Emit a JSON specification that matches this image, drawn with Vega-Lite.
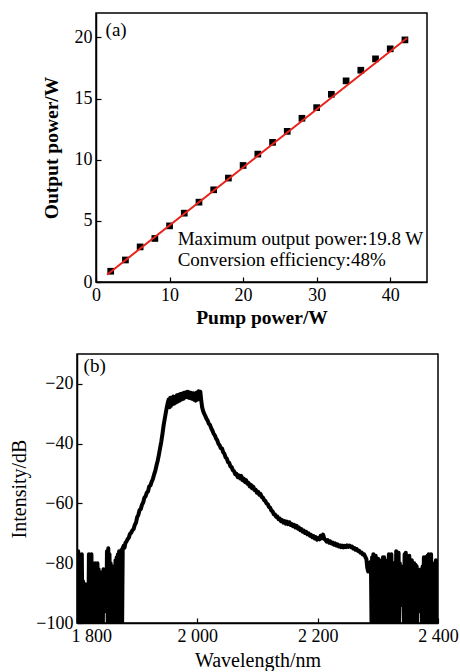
{
  "$schema": "https://vega.github.io/schema/vega-lite/v6.json",
  "background": "white",
  "padding": {"left": 9, "top": 12, "right": 2, "bottom": 0},
  "spacing": 25,
  "config": {
    "font": "Liberation Serif",
    "view": {"stroke": "black", "strokeWidth": 1.5},
    "axis": {
      "labelFont": "Liberation Serif",
      "titleFont": "Liberation Serif",
      "labelFontSize": 18,
      "titleFontSize": 19.5,
      "labelColor": "black",
      "titleColor": "black",
      "domainColor": "black",
      "domainWidth": 1.5,
      "tickColor": "black",
      "tickWidth": 1.2,
      "tickSize": -5,
      "labelPadding": 9,
      "labelFlush": false,
      "labelOverlap": false,
      "grid": false
    },
    "text": {"font": "Liberation Serif", "color": "black"}
  },
  "datasets": {
    "power": [
      {"pump": 2, "output": 0.88}, {"pump": 4, "output": 1.8}, {"pump": 6, "output": 2.87},
      {"pump": 8, "output": 3.56}, {"pump": 10, "output": 4.59}, {"pump": 12, "output": 5.63},
      {"pump": 14, "output": 6.53}, {"pump": 16, "output": 7.54}, {"pump": 18, "output": 8.5},
      {"pump": 20, "output": 9.53}, {"pump": 22, "output": 10.46}, {"pump": 24, "output": 11.42},
      {"pump": 26, "output": 12.32}, {"pump": 28, "output": 13.39}, {"pump": 30, "output": 14.26},
      {"pump": 32, "output": 15.35}, {"pump": 34, "output": 16.45}, {"pump": 36, "output": 17.32},
      {"pump": 38, "output": 18.25}, {"pump": 40, "output": 19.07}, {"pump": 42, "output": 19.8}
    ],
    "fit": [
      {"pump": 1.5, "output": 0.6},
      {"pump": 42.3, "output": 19.95}
    ],
    "notes": [
      {"panel": "a", "text": "Maximum output power:19.8 W\nConversion efficiency:48%"}
    ],
    "spectrum": [
      {"wl": 1800, "db": -77}, {"wl": 1801, "db": -100}, {"wl": 1802, "db": -76}, {"wl": 1803, "db": -100},
      {"wl": 1804, "db": -77}, {"wl": 1805, "db": -100}, {"wl": 1806, "db": -78}, {"wl": 1807, "db": -100},
      {"wl": 1808, "db": -77}, {"wl": 1809, "db": -100}, {"wl": 1810, "db": -86}, {"wl": 1811, "db": -100},
      {"wl": 1812, "db": -88}, {"wl": 1813, "db": -100}, {"wl": 1814, "db": -87}, {"wl": 1815, "db": -100},
      {"wl": 1819, "db": -100}, {"wl": 1819.8, "db": -77}, {"wl": 1821, "db": -100}, {"wl": 1822, "db": -78},
      {"wl": 1823, "db": -100}, {"wl": 1824, "db": -77}, {"wl": 1825, "db": -100}, {"wl": 1826, "db": -80},
      {"wl": 1827, "db": -100}, {"wl": 1828, "db": -81}, {"wl": 1829, "db": -100}, {"wl": 1830, "db": -80},
      {"wl": 1831, "db": -100}, {"wl": 1832, "db": -81}, {"wl": 1833, "db": -100}, {"wl": 1834, "db": -80},
      {"wl": 1835, "db": -100}, {"wl": 1836, "db": -82}, {"wl": 1837, "db": -100}, {"wl": 1841, "db": -100},
      {"wl": 1841.8, "db": -83}, {"wl": 1843, "db": -100}, {"wl": 1844, "db": -82}, {"wl": 1845, "db": -96},
      {"wl": 1849, "db": -96}, {"wl": 1849.8, "db": -76}, {"wl": 1851, "db": -100}, {"wl": 1852, "db": -75},
      {"wl": 1853, "db": -100}, {"wl": 1854, "db": -77}, {"wl": 1855, "db": -100}, {"wl": 1856, "db": -80},
      {"wl": 1857, "db": -100}, {"wl": 1861, "db": -100}, {"wl": 1861.8, "db": -81}, {"wl": 1863, "db": -100},
      {"wl": 1864, "db": -79}, {"wl": 1865, "db": -100}, {"wl": 1866, "db": -78}, {"wl": 1867, "db": -100},
      {"wl": 1868, "db": -77}, {"wl": 1869, "db": -100}, {"wl": 1870, "db": -76}, {"wl": 1871, "db": -100},
      {"wl": 1872, "db": -76.5}, {"wl": 1873, "db": -100}, {"wl": 1874, "db": -75.5}, {"wl": 1875, "db": -100},
      {"wl": 1876, "db": -75},
      {"wl": 1877.5, "db": -74.2}, {"wl": 1879, "db": -74.8}, {"wl": 1880.5, "db": -73.2}, {"wl": 1882, "db": -72.8},
      {"wl": 1884, "db": -72}, {"wl": 1886, "db": -71.5}, {"wl": 1888, "db": -70.2}, {"wl": 1890, "db": -69.8},
      {"wl": 1892, "db": -69}, {"wl": 1894, "db": -68.6}, {"wl": 1896, "db": -67.2}, {"wl": 1898, "db": -66.5},
      {"wl": 1900, "db": -64.6}, {"wl": 1902, "db": -63.8}, {"wl": 1904, "db": -62.2}, {"wl": 1906, "db": -61.9},
      {"wl": 1908, "db": -60.4}, {"wl": 1910, "db": -59.7}, {"wl": 1912, "db": -58.1}, {"wl": 1914, "db": -57.6},
      {"wl": 1916, "db": -56.4}, {"wl": 1918, "db": -56}, {"wl": 1920, "db": -54.3}, {"wl": 1922, "db": -54},
      {"wl": 1924, "db": -52.8}, {"wl": 1926, "db": -51.9}, {"wl": 1928, "db": -50.4}, {"wl": 1930, "db": -49.2},
      {"wl": 1932, "db": -47.4}, {"wl": 1934, "db": -45.8}, {"wl": 1936, "db": -43.8}, {"wl": 1938, "db": -41.6},
      {"wl": 1940, "db": -39.4}, {"wl": 1942, "db": -36.8}, {"wl": 1944, "db": -33.8}, {"wl": 1946, "db": -31.5},
      {"wl": 1948, "db": -29.2}, {"wl": 1949.5, "db": -27.6}, {"wl": 1951, "db": -26.2}, {"wl": 1952.5, "db": -25.2},
      {"wl": 1954, "db": -27.8}, {"wl": 1955, "db": -24.6}, {"wl": 1956, "db": -27.4}, {"wl": 1957, "db": -24.8},
      {"wl": 1958.5, "db": -26.8}, {"wl": 1960, "db": -24.2}, {"wl": 1961.5, "db": -26.6}, {"wl": 1963, "db": -24.4},
      {"wl": 1964.5, "db": -26.2}, {"wl": 1966, "db": -23.8}, {"wl": 1967.5, "db": -25.9}, {"wl": 1969, "db": -23.6},
      {"wl": 1970.5, "db": -25.6}, {"wl": 1972, "db": -23.4}, {"wl": 1973.5, "db": -25.2}, {"wl": 1975, "db": -23.2},
      {"wl": 1976.5, "db": -25}, {"wl": 1978, "db": -23}, {"wl": 1979.5, "db": -24.6}, {"wl": 1981, "db": -22.8},
      {"wl": 1982.5, "db": -24.4}, {"wl": 1984, "db": -22.6}, {"wl": 1985.5, "db": -24.6}, {"wl": 1987, "db": -22.9},
      {"wl": 1988.5, "db": -24.8}, {"wl": 1990, "db": -23}, {"wl": 1991.5, "db": -25}, {"wl": 1993, "db": -23.1},
      {"wl": 1994.5, "db": -25.3}, {"wl": 1996, "db": -23.2}, {"wl": 1997.5, "db": -25.6}, {"wl": 1999, "db": -22.9},
      {"wl": 2000.5, "db": -25.2}, {"wl": 2002, "db": -22.5}, {"wl": 2003.5, "db": -24.8}, {"wl": 2005, "db": -22.6},
      {"wl": 2006.5, "db": -25.6}, {"wl": 2008, "db": -27.8}, {"wl": 2009.5, "db": -29}, {"wl": 2011, "db": -29.8},
      {"wl": 2013, "db": -30.6}, {"wl": 2015, "db": -31.6}, {"wl": 2017, "db": -32.2}, {"wl": 2019, "db": -33.3},
      {"wl": 2021, "db": -33.7}, {"wl": 2023, "db": -34.8}, {"wl": 2025, "db": -35.6}, {"wl": 2027, "db": -36.6},
      {"wl": 2029, "db": -37.2}, {"wl": 2031, "db": -38.2}, {"wl": 2033, "db": -38.8}, {"wl": 2035, "db": -40},
      {"wl": 2037, "db": -40.5}, {"wl": 2039, "db": -41.5}, {"wl": 2041, "db": -41.6}, {"wl": 2043, "db": -42.9},
      {"wl": 2045, "db": -43.4}, {"wl": 2047, "db": -44.6}, {"wl": 2049, "db": -45}, {"wl": 2051, "db": -46.2},
      {"wl": 2053, "db": -46.4}, {"wl": 2055, "db": -47.6}, {"wl": 2057, "db": -47.8}, {"wl": 2059, "db": -48.9},
      {"wl": 2061, "db": -49.2}, {"wl": 2063, "db": -50.2}, {"wl": 2065, "db": -50.1}, {"wl": 2067, "db": -51.2},
      {"wl": 2069, "db": -50.6}, {"wl": 2071, "db": -51.6}, {"wl": 2073, "db": -50.8}, {"wl": 2075, "db": -52.2},
      {"wl": 2077, "db": -51.7}, {"wl": 2079, "db": -52.8}, {"wl": 2081, "db": -52.2}, {"wl": 2083, "db": -53.4},
      {"wl": 2085, "db": -53.1}, {"wl": 2087, "db": -54.3}, {"wl": 2089, "db": -53.8}, {"wl": 2091, "db": -54.9},
      {"wl": 2093, "db": -54.4}, {"wl": 2095, "db": -55.5}, {"wl": 2097, "db": -55.4}, {"wl": 2099, "db": -56.4},
      {"wl": 2101, "db": -56.1}, {"wl": 2103, "db": -57.1}, {"wl": 2105, "db": -56.8}, {"wl": 2107, "db": -57.9},
      {"wl": 2109, "db": -58}, {"wl": 2111, "db": -58.9}, {"wl": 2113, "db": -59.1}, {"wl": 2115, "db": -60},
      {"wl": 2117, "db": -60.2}, {"wl": 2119, "db": -61.2}, {"wl": 2121, "db": -61.4}, {"wl": 2123, "db": -62.4},
      {"wl": 2125, "db": -62.6}, {"wl": 2127, "db": -63.6}, {"wl": 2129, "db": -63.7}, {"wl": 2131, "db": -64.5},
      {"wl": 2133, "db": -64.4}, {"wl": 2135, "db": -65.3}, {"wl": 2137, "db": -65.1}, {"wl": 2139, "db": -65.9},
      {"wl": 2141, "db": -65.6}, {"wl": 2143, "db": -66.4}, {"wl": 2145, "db": -65.9}, {"wl": 2147, "db": -66.8},
      {"wl": 2149, "db": -66.1}, {"wl": 2151, "db": -66.9}, {"wl": 2153, "db": -66.3}, {"wl": 2155, "db": -67.2},
      {"wl": 2157, "db": -66.9}, {"wl": 2159, "db": -67.6}, {"wl": 2161, "db": -67.2}, {"wl": 2163, "db": -68},
      {"wl": 2165, "db": -67.5}, {"wl": 2167, "db": -68.4}, {"wl": 2169, "db": -68.1}, {"wl": 2171, "db": -68.9},
      {"wl": 2173, "db": -68.6}, {"wl": 2175, "db": -69.4}, {"wl": 2177, "db": -69.1}, {"wl": 2179, "db": -69.9},
      {"wl": 2181, "db": -69.5}, {"wl": 2183, "db": -70.3}, {"wl": 2185, "db": -70}, {"wl": 2187, "db": -70.8},
      {"wl": 2189, "db": -70.5}, {"wl": 2191, "db": -71.3}, {"wl": 2193, "db": -70.9}, {"wl": 2195, "db": -71.7},
      {"wl": 2197, "db": -71.3}, {"wl": 2199, "db": -72.1}, {"wl": 2201, "db": -71.6}, {"wl": 2203, "db": -72},
      {"wl": 2205, "db": -70.8}, {"wl": 2207, "db": -71.6}, {"wl": 2209, "db": -70.4}, {"wl": 2211, "db": -71.8},
      {"wl": 2213, "db": -72.2}, {"wl": 2215, "db": -72.8}, {"wl": 2217, "db": -72.3}, {"wl": 2219, "db": -73.1},
      {"wl": 2221, "db": -72.7}, {"wl": 2223, "db": -73.4}, {"wl": 2225, "db": -73.1}, {"wl": 2227, "db": -73.8},
      {"wl": 2229, "db": -73.4}, {"wl": 2231, "db": -74.1}, {"wl": 2233, "db": -73.7}, {"wl": 2235, "db": -74.4},
      {"wl": 2237, "db": -74}, {"wl": 2239, "db": -74.6}, {"wl": 2241, "db": -74.1}, {"wl": 2243, "db": -74.7},
      {"wl": 2245, "db": -74.2}, {"wl": 2247, "db": -74.6}, {"wl": 2249, "db": -74}, {"wl": 2251, "db": -74.5},
      {"wl": 2253, "db": -74.1}, {"wl": 2255, "db": -74.6}, {"wl": 2257, "db": -74.4}, {"wl": 2259, "db": -75.1},
      {"wl": 2261, "db": -74.9}, {"wl": 2263, "db": -75.5}, {"wl": 2265, "db": -75.3}, {"wl": 2267, "db": -75.9},
      {"wl": 2269, "db": -75.8}, {"wl": 2271, "db": -76.5}, {"wl": 2273, "db": -76.4}, {"wl": 2275, "db": -77.1},
      {"wl": 2277, "db": -77}, {"wl": 2279, "db": -77.8}, {"wl": 2281, "db": -78.6}, {"wl": 2282.5, "db": -81.5},
      {"wl": 2284, "db": -82.8}, {"wl": 2285.5, "db": -80.5}, {"wl": 2287, "db": -79.8}, {"wl": 2288.5, "db": -79.5},
      {"wl": 2289.5, "db": -100}, {"wl": 2290.5, "db": -78}, {"wl": 2291.5, "db": -100}, {"wl": 2292.5, "db": -77},
      {"wl": 2293.5, "db": -100}, {"wl": 2294.5, "db": -78}, {"wl": 2295.5, "db": -100}, {"wl": 2296.5, "db": -77.5},
      {"wl": 2297.5, "db": -100}, {"wl": 2298.5, "db": -79}, {"wl": 2299.5, "db": -100}, {"wl": 2300.5, "db": -78.5},
      {"wl": 2301.5, "db": -100}, {"wl": 2302.5, "db": -79}, {"wl": 2303.5, "db": -100}, {"wl": 2304.5, "db": -80},
      {"wl": 2305.5, "db": -100}, {"wl": 2306.5, "db": -79}, {"wl": 2307.5, "db": -100}, {"wl": 2308.5, "db": -78},
      {"wl": 2309.5, "db": -100}, {"wl": 2310.5, "db": -78}, {"wl": 2311.5, "db": -100}, {"wl": 2312.5, "db": -79},
      {"wl": 2313.5, "db": -100}, {"wl": 2317.5, "db": -100}, {"wl": 2318.3, "db": -77}, {"wl": 2319.5, "db": -100},
      {"wl": 2320.5, "db": -78}, {"wl": 2321.5, "db": -100}, {"wl": 2322.5, "db": -77}, {"wl": 2323.5, "db": -100},
      {"wl": 2324.5, "db": -80}, {"wl": 2325.5, "db": -100}, {"wl": 2326.5, "db": -80}, {"wl": 2327.5, "db": -100},
      {"wl": 2328.5, "db": -81}, {"wl": 2329.5, "db": -100}, {"wl": 2330.5, "db": -76}, {"wl": 2331.5, "db": -100},
      {"wl": 2332.5, "db": -77}, {"wl": 2333.5, "db": -100}, {"wl": 2334.5, "db": -76.5}, {"wl": 2335.5, "db": -100},
      {"wl": 2336.5, "db": -80}, {"wl": 2337.5, "db": -94}, {"wl": 2341.5, "db": -94}, {"wl": 2342.3, "db": -81},
      {"wl": 2343.5, "db": -100}, {"wl": 2344.5, "db": -77}, {"wl": 2345.5, "db": -100}, {"wl": 2346.5, "db": -76.5},
      {"wl": 2347.5, "db": -100}, {"wl": 2351.5, "db": -100}, {"wl": 2352.3, "db": -77.5}, {"wl": 2353.5, "db": -100},
      {"wl": 2354.5, "db": -79}, {"wl": 2355.5, "db": -100}, {"wl": 2356.5, "db": -79}, {"wl": 2357.5, "db": -100},
      {"wl": 2358.5, "db": -80}, {"wl": 2359.5, "db": -100}, {"wl": 2360.5, "db": -80}, {"wl": 2361.5, "db": -100},
      {"wl": 2362.5, "db": -80.5}, {"wl": 2363.5, "db": -100}, {"wl": 2364.5, "db": -81}, {"wl": 2365.5, "db": -100},
      {"wl": 2366.5, "db": -82}, {"wl": 2367.5, "db": -96}, {"wl": 2371.5, "db": -96}, {"wl": 2372.3, "db": -82},
      {"wl": 2373.5, "db": -100}, {"wl": 2374.5, "db": -81}, {"wl": 2375.5, "db": -100}, {"wl": 2376.5, "db": -78},
      {"wl": 2377.5, "db": -100}, {"wl": 2378.5, "db": -78}, {"wl": 2379.5, "db": -100}, {"wl": 2380.5, "db": -79},
      {"wl": 2381.5, "db": -100}, {"wl": 2382.5, "db": -77.5}, {"wl": 2383.5, "db": -100}, {"wl": 2384.5, "db": -77},
      {"wl": 2385.5, "db": -100}, {"wl": 2386.5, "db": -78}, {"wl": 2387.5, "db": -100}, {"wl": 2388.5, "db": -77},
      {"wl": 2389.5, "db": -100}, {"wl": 2390.5, "db": -80}, {"wl": 2391.5, "db": -100}, {"wl": 2392.5, "db": -81},
      {"wl": 2393.5, "db": -100}, {"wl": 2394.5, "db": -80}, {"wl": 2395.5, "db": -100}, {"wl": 2396.5, "db": -79},
      {"wl": 2397.5, "db": -100}, {"wl": 2398.5, "db": -80}, {"wl": 2399.5, "db": -100}
    ]
  },
  "vconcat": [
    {
      "bounds": "flush",
      "spacing": 0,
      "hconcat": [
        {
          "width": 19,
          "height": 10,
          "view": {"stroke": null},
          "data": {"values": []},
          "mark": "point"
        },
        {
          "width": 331,
          "height": 269,
          "layer": [
            {
              "data": {"name": "power"},
              "mark": {"type": "point", "shape": "square", "filled": true, "color": "black", "opacity": 1, "size": 45},
              "encoding": {
                "x": {
                  "field": "pump", "type": "quantitative",
                  "scale": {"domain": [0, 45]},
                  "axis": {"title": "Pump power/W", "titleFontWeight": "bold", "titlePadding": 4, "values": [0, 10, 20, 30, 40]}
                },
                "y": {
                  "field": "output", "type": "quantitative",
                  "scale": {"domain": [0, 22]},
                  "axis": {"title": "Output power/W", "titleFontWeight": "bold", "titlePadding": 13, "values": [0, 5, 10, 15, 20]}
                }
              }
            },
            {
              "data": {"name": "fit"},
              "mark": {"type": "line", "color": "#e8231c", "strokeWidth": 2},
              "encoding": {
                "x": {"field": "pump", "type": "quantitative"},
                "y": {"field": "output", "type": "quantitative"}
              }
            },
            {
              "data": {"name": "notes"},
              "mark": {"type": "text", "align": "left", "baseline": "top", "fontSize": 19, "lineBreak": "\n", "lineHeight": 21},
              "encoding": {
                "x": {"datum": 11.1, "type": "quantitative"},
                "y": {"datum": 4.25, "type": "quantitative"},
                "text": {"field": "text"}
              }
            },
            {
              "data": {"values": [{"label": "(a)"}]},
              "mark": {"type": "text", "align": "left", "baseline": "middle", "fontSize": 19},
              "encoding": {
                "x": {"datum": 1.3, "type": "quantitative"},
                "y": {"datum": 20.6, "type": "quantitative"},
                "text": {"field": "label"}
              }
            }
          ]
        }
      ]
    },
    {
      "width": 361,
      "height": 269,
      "layer": [
        {
          "data": {"name": "spectrum"},
          "mark": {"type": "line", "color": "black", "strokeWidth": 4, "strokeJoin": "round", "clip": true},
          "encoding": {
            "x": {
              "field": "wl", "type": "quantitative",
              "scale": {"domain": [1800, 2400]},
              "axis": {
                "title": "Wavelength/nm", "titleFontWeight": "normal", "titleFontSize": 20, "titlePadding": 5,
                "values": [1800, 2000, 2200, 2400],
                "labelExpr": "replace(format(datum.value, ','), ',', ' ')",
                "labelAlign": {"condition": {"test": "datum.value == 1800", "value": "left"}, "value": "center"},
                "labelOffset": {"condition": {"test": "datum.value == 1800", "value": -6}, "value": 0}
              }
            },
            "y": {
              "field": "db", "type": "quantitative",
              "scale": {"domain": [-100, -10]},
              "axis": {"title": "Intensity/dB", "titleFontWeight": "normal", "titleFontSize": 20, "titlePadding": 6, "values": [-100, -80, -60, -40, -20]}
            }
          }
        },
        {
          "data": {"values": [{"label": "(b)"}]},
          "mark": {"type": "text", "align": "left", "baseline": "middle", "fontSize": 19},
          "encoding": {
            "x": {"datum": 1811, "type": "quantitative"},
            "y": {"datum": -14, "type": "quantitative"},
            "text": {"field": "label"}
          }
        }
      ]
    }
  ]
}
